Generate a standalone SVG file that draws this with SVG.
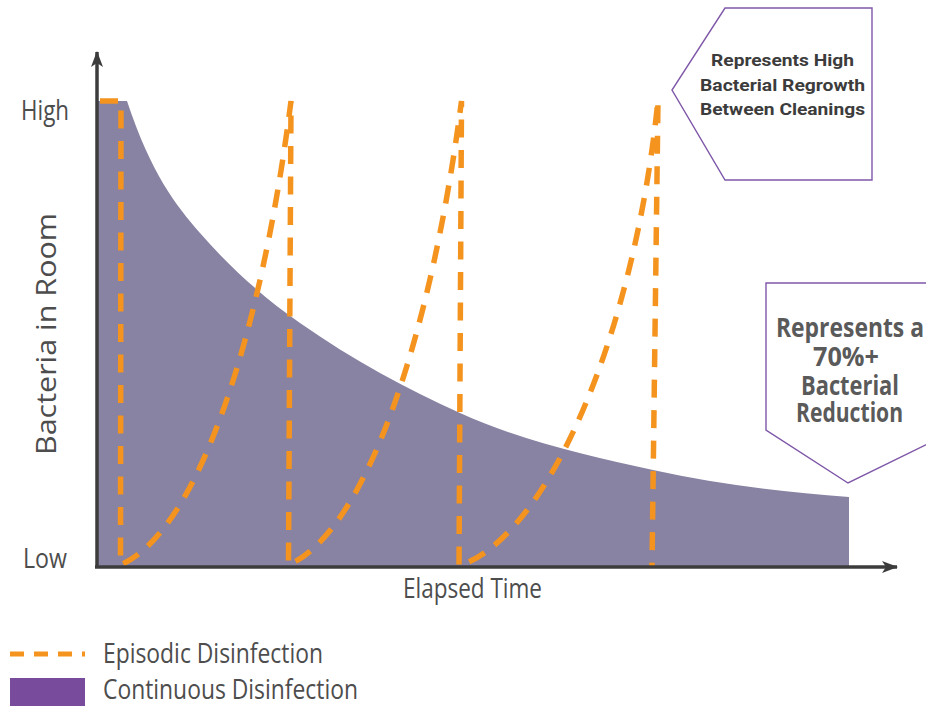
<svg xmlns="http://www.w3.org/2000/svg" width="926" height="706" viewBox="0 0 926 706">
  <style>
    .lbl { font-family: "Open Sans", "Liberation Sans", sans-serif; font-size: 27px; fill: #4d4d4d; }
    .ep { fill: none; stroke: #f4941f; stroke-width: 5.5; stroke-dasharray: 18 12.5; stroke-linejoin: miter; }
    .axis { fill: none; stroke: #3c3c3c; stroke-width: 3.5; }
    .callout { fill: #ffffff; stroke: #7e57a8; stroke-width: 1.4; }
    .c1 { font-family: Roboto, "Liberation Sans", sans-serif; font-weight: 700; font-size: 17px; fill: #3c3c3c; }
    .c2 { font-family: "Open Sans", "Liberation Sans", sans-serif; font-weight: 700; font-size: 26px; fill: #5a5a5a; }
  </style>
  <defs>
    <marker id="arrow" viewBox="0 0 16 12" refX="15" refY="6" markerWidth="16" markerHeight="12" markerUnits="userSpaceOnUse" orient="auto">
      <path d="M0,0 L16,6 L0,12 L4,6 Z" fill="#3c3c3c"/>
    </marker>
  </defs>

  <g id="continuous-area">
    <path fill="#8882a3" d="M97,566 V101 H127 C151.3,174 175.7,205 200,233 C233.3,271.3 266.7,299.7 300,323 C353.3,360.3 406.7,389 460,413 C524.3,441.9 588.7,455.9 653,470 C718.3,484.4 783.7,492.4 849,497 V566 Z"/>
  </g>

  <g id="connectors">
    <path id="episodic-line" class="ep" d="M100,101 H121 L120.5,565 C200,530 262,330 291,101 L288.5,565 C368,530 432,330 461.5,101 L459,566 C550,535 635,330 658,100 L652,566"/>
    <line id="y-axis" class="axis" x1="97" y1="568" x2="97" y2="52" marker-end="url(#arrow)"/>
    <line id="x-axis" class="axis" x1="95" y1="567" x2="897" y2="567" marker-end="url(#arrow)"/>
  </g>

  <g id="axis-labels">
    <text class="lbl" x="21" y="120" textLength="48" lengthAdjust="spacingAndGlyphs">High</text>
    <text class="lbl" x="23" y="568" textLength="44" lengthAdjust="spacingAndGlyphs">Low</text>
    <text class="lbl" x="403" y="598" textLength="139" lengthAdjust="spacingAndGlyphs">Elapsed Time</text>
    <text class="lbl" transform="translate(56,455) rotate(-90)" x="0" y="0" font-size="29" textLength="242" lengthAdjust="spacingAndGlyphs">Bacteria in Room</text>
  </g>

  <g id="callout-regrowth">
    <polygon class="callout" points="725,8 872,8 872,180 725,180 672,90"/>
    <text class="c1" x="782.5" y="66" text-anchor="middle" textLength="143" lengthAdjust="spacingAndGlyphs">Represents High</text>
    <text class="c1" x="782.5" y="91" text-anchor="middle" textLength="165" lengthAdjust="spacingAndGlyphs">Bacterial Regrowth</text>
    <text class="c1" x="782.5" y="115" text-anchor="middle" textLength="165" lengthAdjust="spacingAndGlyphs">Between Cleanings</text>
  </g>

  <g id="callout-reduction">
    <polygon class="callout" points="766,283 956,283 956,430 848,483 766,430"/>
    <text class="c2" x="776" y="337" textLength="148" lengthAdjust="spacingAndGlyphs">Represents a</text>
    <text class="c2" x="813" y="366" textLength="66" lengthAdjust="spacingAndGlyphs">70%+</text>
    <text class="c2" x="801" y="395" textLength="98" lengthAdjust="spacingAndGlyphs">Bacterial</text>
    <text class="c2" x="796" y="422" textLength="107" lengthAdjust="spacingAndGlyphs">Reduction</text>
  </g>

  <g id="legend">
    <line x1="10" y1="654" x2="85" y2="654" stroke="#f4941f" stroke-width="5" stroke-dasharray="14 10"/>
    <text class="lbl" x="103" y="663" textLength="220" lengthAdjust="spacingAndGlyphs">Episodic Disinfection</text>
    <rect x="10" y="678" width="75" height="28" fill="#784b9c"/>
    <text class="lbl" x="103" y="699" font-size="26" textLength="255" lengthAdjust="spacingAndGlyphs">Continuous Disinfection</text>
  </g>
</svg>
